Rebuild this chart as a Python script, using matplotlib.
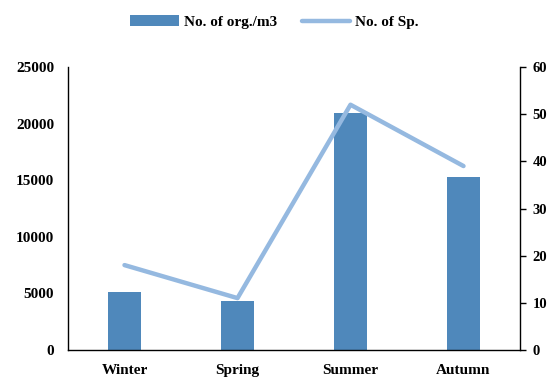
import numpy as np
import matplotlib
matplotlib.use('Agg')
import matplotlib.pyplot as plt

seasons = ['Winter', 'Spring', 'Summer', 'Autumn']
org_per_m3 = [5150, 4350, 20900, 15250]
num_species = [18, 11, 52, 39]

plt.rcParams['font.family'] = ['Liberation Serif', 'DejaVu Serif']
plt.rcParams['font.weight'] = 'bold'

fig = plt.figure(figsize=(5.49, 3.77), dpi=100)
ax = fig.add_axes([68/549, 1-350/377, 452/549, 283/377])
x = np.arange(len(seasons))

bars = ax.bar(x, org_per_m3, width=0.3, color='#4f88bb', label='No. of org./m3', zorder=2)
ax.set_xlim(-0.5, 3.5)
ax.set_ylim(0, 25000)
ax.set_yticks(range(0, 25001, 5000))
ax.set_xticks(x)
ax.set_xticklabels(seasons)
ax.tick_params(axis='y', length=0, pad=10, labelsize=11)
ax.tick_params(axis='x', length=0, pad=10, labelsize=11)
ax.spines['top'].set_visible(False)
ax.spines['right'].set_visible(False)
for s in ['left', 'bottom']:
    ax.spines[s].set_linewidth(1.0)

ax2 = ax.twinx()
line, = ax2.plot(x, num_species, color='#95b9e0', lw=3.2, label='No. of Sp.', zorder=3,
                 solid_capstyle='round')
ax2.set_ylim(0, 60)
ax2.set_yticks(range(0, 61, 10))
ax2.tick_params(axis='y', length=4, width=1.0, pad=5, labelsize=10.5)
ax2.spines['top'].set_visible(False)
ax2.spines['left'].set_visible(False)
ax2.spines['bottom'].set_visible(False)
ax2.spines['right'].set_linewidth(1.0)

fig.legend([bars, line], ['No. of org./m3', 'No. of Sp.'], loc='center',
           bbox_to_anchor=(0.5, 1-22/377), ncol=2, frameon=False, fontsize=11,
           handlelength=3.2, columnspacing=1.6, handletextpad=0.3)

fig.savefig('out.png', dpi=100)
